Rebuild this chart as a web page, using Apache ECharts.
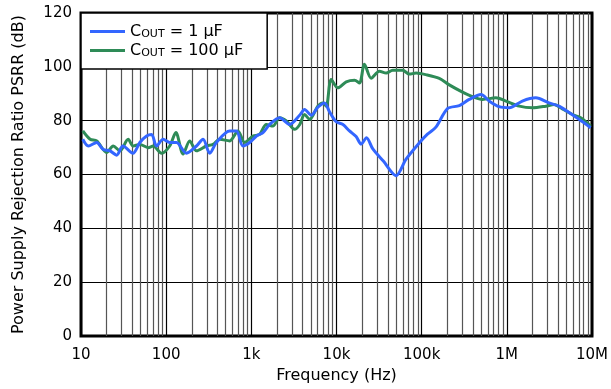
<!DOCTYPE html>
<html>
<head>
<meta charset="utf-8">
<script src="https://cdn.jsdelivr.net/npm/echarts@6/dist/echarts.min.js"></script>
<style>
  html, body { margin: 0; padding: 0; background: #fff; }
  #chart { width: 611px; height: 389px; }
</style>
</head>
<body>
<div id="chart"></div>
<script>
// values
const freq1uF = [10.5, 12.2, 15.3, 18.1, 21.9, 26.2, 31, 40.7, 49.1, 58.9, 67.4, 77.1, 92.1, 110, 132, 173, 227, 271, 325, 389,
  557, 668, 798, 957, 1150, 1370, 1640, 2150, 2810, 3690, 4220, 5060, 6040, 7230, 8280, 9930, 11900, 14200, 17000, 19500,
  22500, 26700, 35500, 50100, 65600, 94000, 117000, 147000, 201000, 277000, 362000, 497000, 621000, 813000,
  1.07e6, 1.52e6, 2.19e6, 3.13e6, 4.1e6, 5.38e6, 7.04e6, 9.66e6];
const psrr1uF = [73.1, 70.6, 71.9, 69.4, 68.8, 67.2, 70.6, 67.9, 71.9, 74.3, 74.9, 70.6, 73.1, 71.9, 71.9, 67.9, 70.6, 73.1, 67.9, 71.9,
  76.2, 76.2, 70.6, 71.9, 74.3, 75.6, 78.6, 81.1, 78.6, 82.0, 84.2, 82.0, 85.0, 86.6, 83.3, 79.6, 78.6, 76.2, 74.1, 71.3,
  73.7, 69.5, 65.0, 59.6, 65.7, 71.8, 75.0, 77.6, 84.5, 85.6, 87.9, 89.7, 87.3, 85.2,
  84.8, 87.3, 88.5, 86.6, 85.4, 83.0, 80.5, 77.4];

const freq100uF = [10.5, 12.8, 15.3, 20, 23.9, 28.6, 35.8, 41, 49.1, 61.5, 70.3, 88.3, 110, 130, 158, 189, 227, 297, 355, 425,
  557, 697, 836, 1045, 1250, 1500, 1790, 2150, 2580, 3220, 3690, 4220, 4830, 6040, 6910, 7570, 8670, 10400, 13000, 16300,
  18600, 21300, 25500, 31900, 38300, 45700, 59800, 71800, 85900, 112000, 161000, 211000, 302000, 396000, 519000, 745000,
  975000, 1.4e6, 2e6, 2.87e6, 3.59e6, 4.49e6, 5.88e6, 7.38e6, 9.66e6];
const psrr100uF = [76.2, 73.1, 72.5, 68.2, 70.6, 68.8, 73.1, 70.6, 71.2, 70.0, 70.6, 67.9, 70.6, 75.6, 67.6, 72.5, 68.8, 70.6, 71.2, 73.1,
  72.5, 76.2, 71.9, 74.3, 74.9, 78.6, 78.0, 81.1, 79.9, 76.8, 78.5, 82.3, 80.5, 85.4, 86.6, 85.4, 95.3, 92.2, 94.4, 95.0,
  94.0, 101.0, 95.8, 98.4, 97.7, 98.7, 98.7, 97.3, 97.7, 97.1, 95.7, 93.3, 90.6, 88.9, 87.9, 88.5,
  87.3, 85.4, 84.8, 85.4, 86.0, 84.4, 82.3, 81.1, 78.0];

const xTicks = [10, 100, 1e3, 1e4, 1e5, 1e6, 1e7];
const xTickLabels = ['10', '100', '1k', '10k', '100k', '1M', '10M'];
const seriesNames = ['COUT = 1 µF', 'COUT = 100 µF'];
const legendTails = [' = 1 µF', ' = 100 µF'];

const FONT = 'DejaVu Sans';

// minor decade grid lines (2..9 in each decade)
let minorLines = [];
for (let d = 10; d < 1e7; d *= 10) {
    for (let k = 2; k <= 9; k++) {
        minorLines.push({xAxis: d * k});
    }
}

const chart = echarts.init(document.getElementById('chart'));

const option = {
    animation: false,
    backgroundColor: '#fff',
    grid: {
        left: 81, top: 13, right: 18, bottom: 51,
        show: true,
        borderColor: '#000',
        borderWidth: 3
    },
    legend: {
        data: seriesNames,
        orient: 'vertical',
        left: 81,
        top: 13,
        padding: [10, 24, 10, 9],
        itemGap: 2,
        itemWidth: 35,
        itemHeight: 3,
        icon: 'rect',
        backgroundColor: '#fff',
        borderColor: '#000',
        borderWidth: 1.5,
        borderRadius: 0,
        z: 10,
        formatter: function (name) {
            let i = seriesNames.indexOf(name);
            return '{c|C}{s|OUT}{c|' + legendTails[i] + '}';
        },
        textStyle: {
            rich: {
                c: {fontFamily: FONT, fontSize: 16, color: '#000', lineHeight: 18},
                s: {fontFamily: FONT, fontSize: 11, color: '#000', lineHeight: 12, padding: [6, 0, 0, 0]}
            }
        }
    },
    xAxis: {
        type: 'log',
        logBase: 10,
        min: 10,
        max: 1e7,
        splitNumber: 6,
        name: 'Frequency (Hz)',
        nameLocation: 'middle',
        nameGap: 28,
        nameTextStyle: {fontFamily: FONT, fontSize: 16, color: '#000'},
        axisLine: {show: false},
        axisTick: {show: false},
        axisLabel: {
            margin: 12,
            fontFamily: FONT,
            fontSize: 15,
            color: '#000',
            formatter: function (v) {
                let i = xTicks.findIndex(t => Math.abs(Math.log10(t) - Math.log10(v)) < 1e-6);
                return i >= 0 ? xTickLabels[i] : '';
            }
        },
        splitLine: {show: true, lineStyle: {color: '#000', width: 1.2}}
    },
    yAxis: {
        type: 'value',
        min: 0,
        max: 120,
        interval: 20,
        name: 'Power Supply Rejection Ratio PSRR (dB)',
        nameLocation: 'middle',
        nameGap: 54,
        nameTextStyle: {fontFamily: FONT, fontSize: 16, color: '#000'},
        axisLine: {show: false},
        axisTick: {show: false},
        axisLabel: {margin: 9, fontFamily: FONT, fontSize: 15, color: '#000'},
        splitLine: {show: true, lineStyle: {color: '#000', width: 1}}
    },
    series: [
        {
            name: seriesNames[0],
            type: 'line',
            symbol: 'none',
            smooth: 0.3,
            z: 3,
            lineStyle: {color: '#3366ff', width: 3},
            itemStyle: {color: '#3366ff'},
            data: freq1uF.map((f, i) => [f, psrr1uF[i]]),
            markLine: {
                silent: true,
                symbol: 'none',
                z: 1,
                label: {show: false},
                lineStyle: {color: '#555', width: 1.2, type: 'solid'},
                emphasis: {disabled: true},
                data: minorLines
            }
        },
        {
            name: seriesNames[1],
            type: 'line',
            symbol: 'none',
            smooth: 0.3,
            z: 2,
            lineStyle: {color: '#2e8b57', width: 3},
            itemStyle: {color: '#2e8b57'},
            data: freq100uF.map((f, i) => [f, psrr100uF[i]])
        }
    ]
};

chart.setOption(option);
</script>
</body>
</html>
